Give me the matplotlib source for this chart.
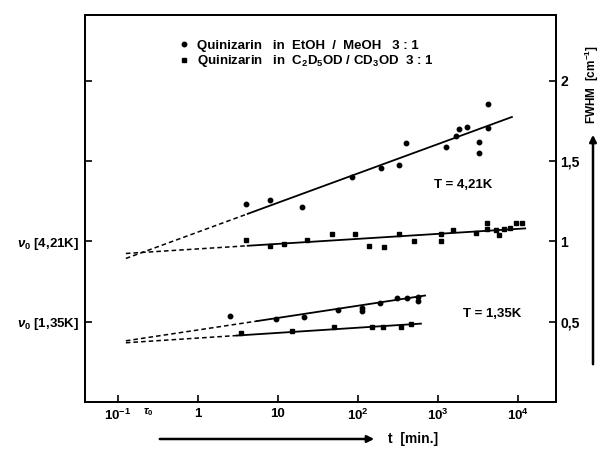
import matplotlib
import matplotlib.pyplot as plt

matplotlib.use("Agg")

plt.rcParams['font.family'] = ['Liberation Sans', 'DejaVu Sans']
plt.rcParams['font.weight'] = 'bold'
plt.rcParams['mathtext.fontset'] = 'custom'
plt.rcParams['mathtext.rm'] = 'Liberation Sans:bold'
plt.rcParams['mathtext.bf'] = 'Liberation Sans:bold'
plt.rcParams['mathtext.it'] = 'Liberation Sans:italic:bold'

# T = 4,21K, EtOH / MeOH (steep)
t_421_etoh = [4, 8, 20, 85, 195, 330, 400, 1250, 1700, 1850, 2300, 3250, 3250, 4250, 4250]
w_421_etoh = [1.236, 1.261, 1.214, 1.402, 1.456, 1.475, 1.614, 1.589, 1.658, 1.702, 1.711,
              1.621, 1.553, 1.856, 1.704]

# T = 4,21K, C2D5OD / CD3OD (flat)
t_421_deut = [4, 8, 12, 23, 47, 92, 137, 213, 325, 505, 1100, 1100, 1550, 3000, 4050, 4050,
              5300, 5800, 6700, 7900, 9400, 11100]
w_421_deut = [1.006, 0.969, 0.986, 1.006, 1.044, 1.044, 0.969, 0.964, 1.044, 1.003, 1.003,
              1.044, 1.074, 1.052, 1.114, 1.079, 1.073, 1.038, 1.079, 1.083, 1.117, 1.117]

# T = 1,35K
t_135_etoh = [2.5, 9.6, 21, 57, 111, 111, 188, 305, 406, 567, 567]
w_135_etoh = [0.538, 0.517, 0.531, 0.575, 0.586, 0.569, 0.614, 0.646, 0.648, 0.656, 0.631]
t_135_deut = [3.5, 15, 50, 148, 207, 345, 456]
w_135_deut = [0.427, 0.444, 0.464, 0.464, 0.464, 0.464, 0.486]

# fitted lines: start (extrapolated), end of dashed part, end of solid part
fit_t_421_etoh = [0.126, 4.2, 8400]
fit_w_421_etoh = [0.894, 1.172, 1.775]
fit_t_421_deut = [0.126, 4.2, 12300]
fit_w_421_deut = [0.925, 0.973, 1.081]
fit_t_135_etoh = [0.126, 5.5, 690]
fit_w_135_etoh = [0.381, 0.504, 0.663]
fit_t_135_deut = [0.126, 3.1, 613]
fit_w_135_deut = [0.369, 0.414, 0.488]

x_ticks = [0.1, 1, 10, 100, 1000, 10000]
x_labels = [r'$10^{-1}$', '1', '10', r'$10^{2}$', r'$10^{3}$', r'$10^{4}$']
y_ticks = [0.5, 1, 1.5, 2]
y_labels_right = ['0,5', '1', '1,5', '2']
y_labels_left = [r'$\nu_0$ [1,35K]', r'$\nu_0$ [4,21K]', '', '']

fig = plt.figure(figsize=(6.04, 4.49), dpi=100)
ax = fig.add_axes([85 / 604, 47 / 449, 471 / 604, 387 / 449])

for ft, fw in [(fit_t_421_etoh, fit_w_421_etoh), (fit_t_421_deut, fit_w_421_deut),
               (fit_t_135_etoh, fit_w_135_etoh), (fit_t_135_deut, fit_w_135_deut)]:
    ax.plot(ft[:2], fw[:2], color='black', lw=1.1, ls=(0, (3, 2)))
    ax.plot(ft[1:], fw[1:], color='black', lw=1.3)

ax.plot(t_421_etoh, w_421_etoh, 'o', color='black', ms=3.2,
        label=r'Quinizarin   in  EtOH  /  MeOH   3 : 1')
ax.plot(t_421_deut, w_421_deut, 's', color='black', ms=2.3,
        label=r'Quinizarin   in  C$_2$D$_5$OD / CD$_3$OD  3 : 1')
ax.plot(t_135_etoh, w_135_etoh, 'o', color='black', ms=3.2)
ax.plot(t_135_deut, w_135_deut, 's', color='black', ms=2.3)

ax.set_xscale('log')
ax.set_xlim(10 ** -1.41, 10 ** 4.475)
ax.set_ylim(0, 2.41)
ax.set_xticks(x_ticks)
ax.set_xticklabels(x_labels, fontsize=9.5)
ax.minorticks_off()
ax.set_yticks(y_ticks)
ax.set_yticklabels(y_labels_left, fontsize=9.5)
ax.tick_params(direction='in', length=5, width=1.2, pad=4)

ax2 = ax.twinx()
ax2.set_ylim(ax.get_ylim())
ax2.set_yticks(y_ticks)
ax2.set_yticklabels(y_labels_right, fontsize=10)
ax2.tick_params(direction='in', length=5, width=1.2, pad=3)

for a in (ax, ax2):
    for s in a.spines.values():
        s.set_linewidth(1.3)

ax.text(2050, 1.35, 'T = 4,21K', fontsize=9.5, ha='center', va='center')
ax.text(4730, 0.55, 'T = 1,35K', fontsize=9.5, ha='center', va='center')
ax.text(10 ** -0.62, -0.01, r'$\tau_0$', fontsize=8, ha='center', va='top',
        transform=ax.get_xaxis_transform())

ax.legend(loc='upper left', bbox_to_anchor=(0.19, 0.95), frameon=False,
          handlelength=0.6, handletextpad=0.7, labelspacing=0.1, fontsize=9.5,
          borderaxespad=0)

# x axis arrow and label
ax.annotate('', xy=(377 / 604, 1 - 439 / 449), xytext=(157 / 604, 1 - 439 / 449),
            xycoords='figure fraction', textcoords='figure fraction',
            arrowprops=dict(arrowstyle='-|>', lw=1.8, color='black', mutation_scale=10))
fig.text(388 / 604, 1 - 439 / 449, 't  [min.]', fontsize=10, ha='left', va='center')

# right axis arrow and label
ax.annotate('', xy=(593 / 604, 1 - 132 / 449), xytext=(593 / 604, 1 - 367 / 449),
            xycoords='figure fraction', textcoords='figure fraction',
            arrowprops=dict(arrowstyle='-|>', lw=1.8, color='black', mutation_scale=10))
fig.text(592 / 604, 1 - 84 / 449, r'FWHM  [cm$^{-1}$]', fontsize=8.5, rotation=90,
         ha='center', va='center')

plt.savefig("out.png", dpi=100)
plt.close()
